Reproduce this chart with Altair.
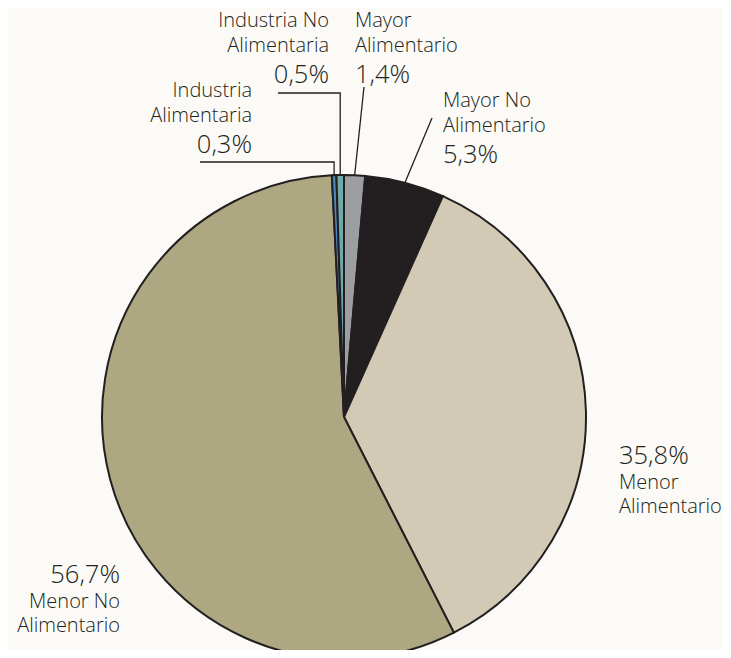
import math
import altair as alt
import pandas as pd

# ---- data ----
categories = ["Mayor Alimentario", "Mayor No Alimentario", "Menor Alimentario",
              "Menor No Alimentario", "Industria Alimentaria", "Industria No Alimentaria"]
shares = [1.4, 5.3, 35.8, 56.7, 0.3, 0.5]
colors = ["#9d9ea2", "#231f20", "#d3cab5", "#aea882", "#4c86be", "#70a9a9"]
name_lines = [["Mayor", "Alimentario"], ["Mayor No", "Alimentario"], ["Menor", "Alimentario"],
              ["Menor No", "Alimentario"], ["Industria", "Alimentaria"], ["Industria No", "Alimentaria"]]

# ---- layout (pixel positions on the page) ----
W, H = 715, 642
CX, CY, R = 344, 417, 242
INK = "#231f20"
FONT = "Open Sans"
NAME_SIZE = 20
PCT_SIZE = 25.5
LINE_GAP = 24.5
# x, first baseline, align, percent first?
label_layout = {
    "Mayor Alimentario": (355, 27, "left", False),
    "Mayor No Alimentario": (443, 107, "left", False),
    "Menor Alimentario": (619, 464, "left", True),
    "Menor No Alimentario": (120, 583, "right", True),
    "Industria Alimentaria": (252, 97, "right", False),
    "Industria No Alimentaria": (329, 27, "right", False),
}
# leader start points and optional horizontal elbow
leader_layout = {
    "Mayor Alimentario": ((364, 87), False),
    "Mayor No Alimentario": ((432, 118), False),
    "Industria Alimentaria": ((200, 162), True),
    "Industria No Alimentaria": ((278, 93), True),
}

pie = pd.DataFrame({"cat": categories, "share": shares, "order": list(range(len(categories)))})

# label rows
rows = []
for cat, v, names in zip(categories, shares, name_lines):
    x, y0, align, pct_first = label_layout[cat]
    pct = f"{v:.1f}".replace(".", ",") + "%"
    if pct_first:
        rows.append(dict(text=pct, x=x, y=y0, size=PCT_SIZE, align=align))
        for i, n in enumerate(names):
            rows.append(dict(text=n, x=x, y=y0 + LINE_GAP * (i + 1), size=NAME_SIZE, align=align))
    else:
        for i, n in enumerate(names):
            rows.append(dict(text=n, x=x, y=y0 + LINE_GAP * i, size=NAME_SIZE, align=align))
        rows.append(dict(text=pct, x=x, y=y0 + LINE_GAP * (len(names) - 1) + 31, size=PCT_SIZE, align=align))
labels = pd.DataFrame(rows)

# leader lines, ending on the rim at each slice's mid angle
lead_rows = []
cum = 0.0
total = sum(shares)
for cat, v in zip(categories, shares):
    mid = (cum + v / 2) / total * 2 * math.pi
    cum += v
    if cat not in leader_layout:
        continue
    (sx, sy), elbow = leader_layout[cat]
    rx = CX + R * math.sin(mid)
    ry = CY - R * math.cos(mid)
    pts = [(sx, sy)]
    if elbow:
        pts.append((rx, sy))
    pts.append((rx, ry))
    for i, (px, py) in enumerate(pts):
        lead_rows.append(dict(leader=cat, seq=i, x=px, y=py))
leads = pd.DataFrame(lead_rows)

xs = alt.Scale(domain=[8, 8 + W], range=[0, W], nice=False, zero=False)
ys = alt.Scale(domain=[8, 8 + H], range=[0, H], nice=False, zero=False)

arc = alt.Chart(pie).mark_arc(outerRadius=R, stroke=INK, strokeWidth=2).encode(
    theta=alt.Theta("share:Q", stack=True),
    order=alt.Order("order:Q"),
    color=alt.Color("cat:N", scale=alt.Scale(domain=categories, range=colors), legend=None),
    x=alt.value(CX - 8),
    y=alt.value(CY - 8),
)

lines = alt.Chart(leads).mark_line(color=INK, strokeWidth=1.3).encode(
    x=alt.X("x:Q", scale=xs, axis=None),
    y=alt.Y("y:Q", scale=ys, axis=None),
    detail="leader:N",
    order="seq:Q",
)

def text_layer(align):
    return alt.Chart(labels[labels["align"] == align]).mark_text(
        align=align, baseline="alphabetic", font=FONT, fontWeight=300, color=INK
    ).encode(
        x=alt.X("x:Q", scale=xs, axis=None),
        y=alt.Y("y:Q", scale=ys, axis=None),
        text="text:N",
        size=alt.Size("size:Q", scale=None, legend=None),
    )

chart = alt.layer(arc, lines, text_layer("left"), text_layer("right")).properties(
    width=W, height=H, background="#fbfaf6", padding=0,
    autosize=alt.AutoSizeParams(type="none"),
).configure_view(stroke=None)

chart.save("out.html", embed_options={"renderer": "svg", "actions": False})
